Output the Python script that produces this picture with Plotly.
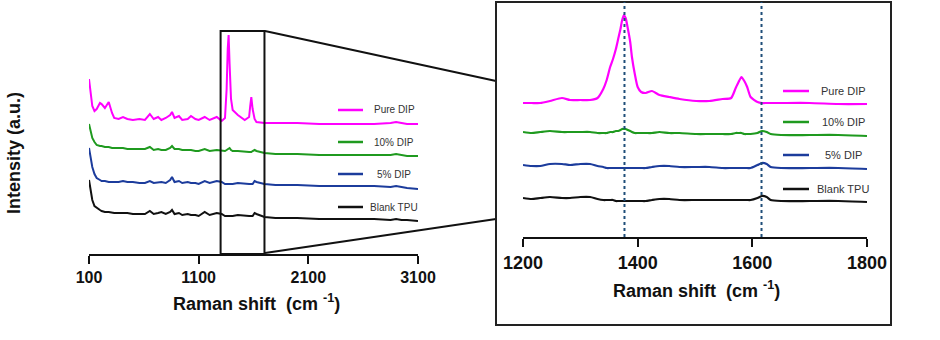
import plotly.graph_objects as go

# ---------------- data ----------------
SERIES = ["Pure DIP", "10% DIP", "5% DIP", "Blank TPU"]
COLORS = ["#ff00ff", "#1f9a1f", "#1c3c9c", "#111111"]

# full-range spectra (stacked, arbitrary units)
WN_FULL = [100, 115, 130, 150, 170, 200, 215, 245, 280, 310, 330, 370, 410, 450, 500,
           560, 610, 655, 690, 730, 760, 800, 840, 857, 880, 920, 950, 1000, 1030, 1070,
           1100, 1155, 1200, 1265, 1310, 1340, 1355, 1365, 1373, 1382, 1395, 1410, 1457,
           1520, 1560, 1570, 1580, 1592, 1610, 1627, 1700, 1800, 2000, 2200, 2500, 2700,
           2850, 2900, 2950, 3000, 3100]

FULL_PURE = [175, 160, 148, 143, 145, 151, 150, 146, 152, 141, 136, 135, 137, 135, 134,
             135, 134, 140, 135, 137, 134, 136, 139, 142, 136, 138, 134, 135, 138, 135,
             134, 137, 134, 137, 133, 136, 165, 205, 219, 190, 155, 144, 139,
             134, 137, 148, 157, 145, 135, 132, 131, 131, 131, 130, 130, 130,
             131, 132, 131, 130, 130]
FULL_10 = [130, 122, 116, 112, 109, 108, 108, 107, 107, 106, 106, 106, 106, 105, 105,
           105, 105, 107, 104, 105, 104, 104, 106, 108, 105, 105, 104, 104, 104, 103,
           103, 105, 103, 104, 103, 103, 104, 105, 106, 106, 104, 103, 103,
           102, 102, 102, 102, 103, 104, 103, 101, 100, 100, 99, 99, 99,
           99, 100, 99, 98, 98]
FULL_5 = [106, 95, 87, 80, 76, 74, 73, 73, 72, 72, 72, 72, 73, 72, 72,
          71, 71, 73, 71, 72, 72, 71, 74, 77, 72, 73, 71, 72, 71, 71,
          70, 73, 71, 73, 72, 70, 70, 70, 70, 70, 70, 70, 71,
          70, 70, 70, 70, 70, 73, 72, 70, 69, 69, 68, 68, 68,
          67, 68, 67, 66, 65]
FULL_BLANK = [74, 62, 54, 48, 46, 44, 43, 42, 42, 41, 41, 41, 41, 41, 40,
              40, 40, 43, 40, 41, 42, 40, 42, 44, 40, 41, 39, 40, 39, 39,
              38, 42, 39, 41, 40, 38, 38, 38, 38, 38, 38, 38, 39,
              38, 38, 38, 38, 38, 41, 40, 37, 36, 36, 35, 35, 35,
              34, 35, 34, 34, 33]

# 1200-1800 cm-1 detail (stacked, arbitrary units)
WN_ZOOM = [1200, 1215, 1230, 1247, 1268, 1282, 1300, 1317, 1330, 1340, 1346, 1352, 1357,
           1362, 1366, 1370, 1373, 1376, 1379, 1383, 1387, 1390, 1395, 1400, 1406, 1414,
           1425, 1438, 1455, 1473, 1502, 1525, 1548, 1563, 1571, 1576, 1581, 1586, 1591,
           1597, 1609, 1617, 1625, 1632, 1650, 1700, 1750, 1800]

ZOOM_PURE = [134, 134, 134, 136, 139, 137, 137, 137, 139, 148, 157, 170, 178,
             188, 198, 208, 217, 222, 219, 208, 195, 180, 163, 150, 145, 144,
             146, 142, 140, 138, 136, 136, 138, 139, 149, 155, 160, 156, 150,
             140, 135, 134, 134, 134, 134, 134, 133, 133]
ZOOM_10 = [105, 104, 105, 106, 105, 105, 105, 105, 104, 104, 104, 105, 105,
           106, 106, 107, 108, 108, 108, 107, 106, 105, 104, 104, 104, 104,
           104, 105, 104, 104, 103, 103, 103, 103, 104, 104, 104, 103, 103,
           103, 104, 106, 105, 103, 102, 102, 102, 101]
ZOOM_5 = [72, 71, 71, 73, 73, 72, 73, 73, 71, 70, 69, 69, 69,
          69, 69, 69, 69, 69, 69, 69, 69, 69, 69, 69, 69, 69,
          70, 71, 71, 70, 70, 70, 69, 69, 69, 69, 69, 69, 69,
          69, 72, 74, 73, 70, 69, 69, 69, 68]
ZOOM_BLANK = [39, 38, 39, 40, 39, 39, 40, 40, 38, 37, 37, 37, 37,
              36, 36, 36, 36, 36, 36, 36, 36, 36, 36, 36, 36, 36,
              37, 38, 38, 37, 37, 37, 37, 37, 37, 37, 37, 37, 37,
              37, 39, 41, 40, 37, 36, 36, 36, 35]

PEAK_LINES = [1377, 1616]          # marked bands in the detail panel
ZOOM_WINDOW = [1300, 1700]         # window outlined on the full spectrum

FULL_TICKS = [100, 1100, 2100, 3100]
ZOOM_TICKS = [1200, 1400, 1600, 1800]

# ---------------- figure ----------------
W, H = 940, 340
FONT = "Liberation Sans, Arial, sans-serif"


def px(x):
    return x / W


def py(y):
    return (H - y) / H


fig = go.Figure()

full_vals = [FULL_PURE, FULL_10, FULL_5, FULL_BLANK]
zoom_vals = [ZOOM_PURE, ZOOM_10, ZOOM_5, ZOOM_BLANK]
for name, col, fv, zv in zip(SERIES, COLORS, full_vals, zoom_vals):
    fig.add_trace(go.Scatter(x=WN_FULL, y=fv, mode="lines", name=name,
                             line=dict(color=col, width=2), xaxis="x", yaxis="y",
                             showlegend=False))
    fig.add_trace(go.Scatter(x=WN_ZOOM, y=zv, mode="lines", name=name,
                             line=dict(color=col, width=2.2, shape="spline", smoothing=0.6),
                             xaxis="x2", yaxis="y2", showlegend=False))

axis_common = dict(showgrid=False, zeroline=False, showline=True, linecolor="#111",
                   linewidth=2, ticks="outside", ticklen=8, tickwidth=2, tickcolor="#111",
                   tickmode="array", automargin=False)

fig.update_layout(
    width=W, height=H, autosize=False,
    margin=dict(l=0, r=0, t=0, b=0, pad=0, autoexpand=False),
    paper_bgcolor="white", plot_bgcolor="rgba(0,0,0,0)",
    font=dict(family=FONT, color="#111"),
    xaxis=dict(domain=[px(89), px(418)], range=[100, 3100], anchor="y",
               tickvals=FULL_TICKS, ticktext=[f"<b>{t}</b>" for t in FULL_TICKS],
               tickfont=dict(size=16, family=FONT), **axis_common),
    yaxis=dict(domain=[py(254), py(20)], range=[0, 234], visible=False, automargin=False),
    xaxis2=dict(domain=[px(523), px(867)], range=[1200, 1800], anchor="y2",
                tickvals=ZOOM_TICKS, ticktext=[f"<b>{t}</b>" for t in ZOOM_TICKS],
                tickfont=dict(size=18, family=FONT), **axis_common),
    yaxis2=dict(domain=[py(237), py(2)], range=[0, 235], visible=False, automargin=False),
)

shapes = []
# outline of the zoomed window on the full spectrum
shapes.append(dict(type="rect", xref="x", yref="y", x0=ZOOM_WINDOW[0], x1=ZOOM_WINDOW[1],
                   y0=0, y1=223, line=dict(color="#111", width=2)))
# connectors to the detail panel
shapes.append(dict(type="line", xref="paper", yref="paper", x0=px(265), y0=py(31),
                   x1=px(496), y1=py(81), line=dict(color="#111", width=2)))
shapes.append(dict(type="line", xref="paper", yref="paper", x0=px(265), y0=py(253),
                   x1=px(496), y1=py(219), line=dict(color="#111", width=2)))
# frame around the detail panel
shapes.append(dict(type="rect", xref="paper", yref="paper", x0=px(496), x1=px(891),
                   y0=py(325), y1=py(2), line=dict(color="#222", width=2)))
# dotted band markers
for wn in PEAK_LINES:
    shapes.append(dict(type="line", xref="x2", yref="y2", x0=wn, x1=wn, y0=0, y1=235,
                       line=dict(color="#1f4e79", width=2, dash="dot")))

# hand-placed legends
annotations = []
legend_sets = [
    dict(line_x=(338, 363), text_x=394, ys=[110, 142, 174, 207], size=10),
    dict(line_x=(783, 809), text_x=843, ys=[91, 122, 155, 189], size=11),
]
for lg in legend_sets:
    for name, col, y in zip(SERIES, COLORS, lg["ys"]):
        shapes.append(dict(type="line", xref="paper", yref="paper",
                           x0=px(lg["line_x"][0]), x1=px(lg["line_x"][1]),
                           y0=py(y), y1=py(y), line=dict(color=col, width=2.5)))
        annotations.append(dict(text=name, xref="paper", yref="paper", x=px(lg["text_x"]),
                                y=py(y), xanchor="center", yanchor="middle", showarrow=False,
                                font=dict(size=lg["size"], color="#333", family=FONT)))

# axis titles
annotations.append(dict(text="<b>Intensity (a.u.)</b>", xref="paper", yref="paper",
                        x=px(14), y=py(153), textangle=-90, showarrow=False,
                        xanchor="center", yanchor="middle",
                        font=dict(size=18, family=FONT, color="#111")))
annotations.append(dict(text="<b>Raman shift  (cm <sup>-1</sup>)</b>", xref="paper", yref="paper",
                        x=px(256), y=py(302), showarrow=False, xanchor="center",
                        yanchor="middle", font=dict(size=18, family=FONT, color="#111")))
annotations.append(dict(text="<b>Raman shift  (cm <sup>-1</sup>)</b>", xref="paper", yref="paper",
                        x=px(696), y=py(289), showarrow=False, xanchor="center",
                        yanchor="middle", font=dict(size=18, family=FONT, color="#111")))

fig.update_layout(shapes=shapes, annotations=annotations)

fig.write_html("out.html")
